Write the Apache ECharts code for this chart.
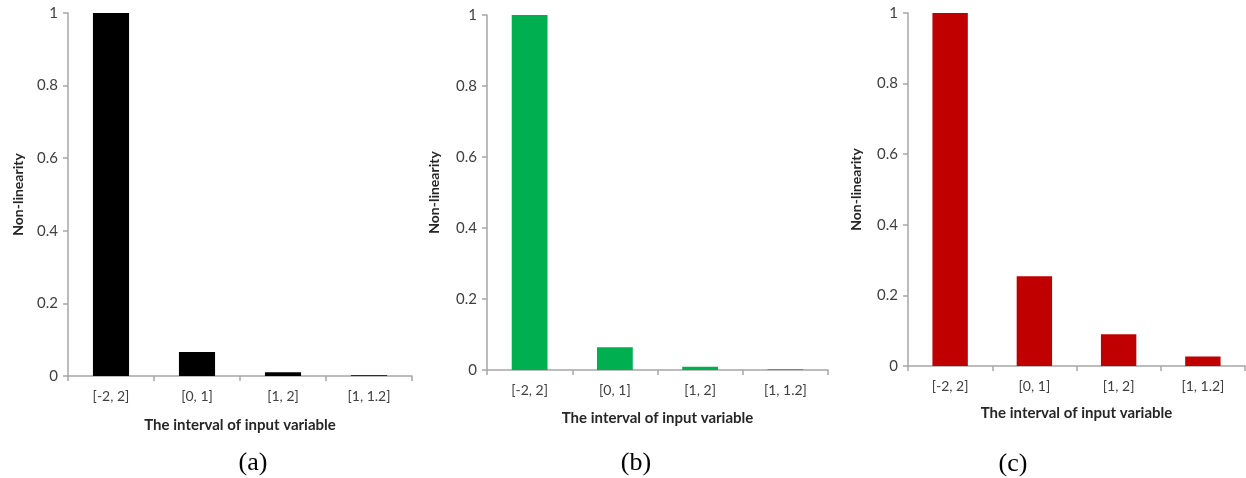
<!DOCTYPE html>
<html>
<head>
<meta charset="utf-8">
<script src="https://cdn.jsdelivr.net/npm/echarts@6/dist/echarts.min.js"></script>
<style>
html,body{margin:0;padding:0;background:#fff;}
#chart{width:1246px;height:478px;}
</style>
</head>
<body>
<div id="chart"></div>
<script>
const categories = ['[-2, 2]', '[0, 1]', '[1, 2]', '[1, 1.2]'];
const seriesA = [1.0, 0.066, 0.010, 0.002];
const seriesB = [1.0, 0.064, 0.009, 0.002];
const seriesC = [1.0, 0.254, 0.090, 0.027];
const panelLabels = ['(a)', '(b)', '(c)'];
const panelColors = ['#000000', '#00B050', '#C00000'];
const yTitle = 'Non-linearity';
const xTitle = 'The interval of input variable';

const FONT = 'Lato';
const grids = [
  {left: 68, top: 13, width: 344, height: 363},
  {left: 487, top: 15, width: 341, height: 355},
  {left: 908, top: 13, width: 337, height: 353}
];
const yNameGaps = [43, 46, 45];
const xNameGaps = [42, 41, 40];
const labelPos = [[248, 462], [631, 462], [1008, 463]];
const data = [seriesA, seriesB, seriesC];

const axisLineStyle = {color: '#a6a6a6', width: 1.5};

const option = {
  animation: false,
  backgroundColor: '#ffffff',
  title: panelLabels.map((t, i) => ({
    text: t,
    left: labelPos[i][0],
    top: labelPos[i][1] - 17,
    textAlign: 'center',
    textStyle: {fontFamily: 'Liberation Serif', fontSize: 26, fontWeight: 'normal', color: '#000'}
  })),
  grid: grids.map(g => Object.assign({containLabel: false}, g)),
  xAxis: grids.map((g, i) => ({
    type: 'category',
    gridIndex: i,
    data: categories,
    boundaryGap: true,
    name: xTitle,
    nameLocation: 'middle',
    nameGap: xNameGaps[i],
    nameTextStyle: {fontFamily: FONT, fontSize: 15, fontWeight: 'bold', color: '#262626'},
    axisLine: {show: true, lineStyle: axisLineStyle},
    axisTick: {show: true, inside: false, length: 5, alignWithLabel: false, lineStyle: axisLineStyle},
    axisLabel: {fontFamily: FONT, fontSize: 14, color: '#404040', margin: 13, interval: 0},
    splitLine: {show: false}
  })),
  yAxis: grids.map((g, i) => ({
    type: 'value',
    gridIndex: i,
    min: 0,
    max: 1,
    interval: 0.2,
    name: yTitle,
    nameLocation: 'middle',
    nameRotate: 90,
    nameGap: yNameGaps[i],
    nameTextStyle: {fontFamily: FONT, fontSize: 14, fontWeight: 'bold', color: '#262626'},
    axisLine: {show: true, lineStyle: axisLineStyle},
    axisTick: {show: true, inside: false, length: 5, lineStyle: axisLineStyle},
    axisLabel: {fontFamily: FONT, fontSize: 15, color: '#404040', margin: 10},
    splitLine: {show: false}
  })),
  series: data.map((d, i) => ({
    type: 'bar',
    xAxisIndex: i,
    yAxisIndex: i,
    data: d,
    barCategoryGap: '58%',
    itemStyle: {color: panelColors[i]}
  }))
};

const chart = echarts.init(document.getElementById('chart'), null, {renderer: 'canvas'});
chart.setOption(option);
</script>
</body>
</html>
